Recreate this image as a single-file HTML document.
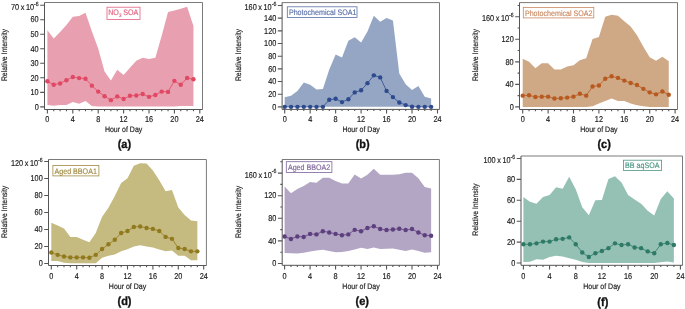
<!DOCTYPE html>
<html><head><meta charset="utf-8"><style>
html,body{margin:0;padding:0;background:#fff;width:685px;height:309px;overflow:hidden}
svg{display:block;will-change:transform}
text{font-family:"Liberation Sans", sans-serif;text-rendering:geometricPrecision}
.t{font-size:8.5px;fill:#222;stroke:#222;stroke-width:0.18px}
.s{font-size:6px}
.s2{font-size:5px}
.h{font-size:8px;fill:#222;stroke:#222;stroke-width:0.18px}
.g{font-size:8px;stroke-width:0.15px}
.b{font-size:11.8px;font-weight:bold;fill:#111;stroke:#111;stroke-width:0.35px}
</style></head><body>
<svg width="685" height="309" viewBox="0 0 685 309">
<rect width="685" height="309" fill="#fff"/>
<polygon fill="#E8A0B0" points="47.4,30.33 53.75,38.61 60.1,31.93 66.45,25.1 72.8,16.83 79.15,15.95 85.5,12.76 91.85,31.35 98.2,48.48 104.55,71.57 110.9,80.42 117.25,69.68 123.6,75.05 129.95,67.79 136.3,60.82 142.65,57.63 149,58.93 155.35,57.63 161.7,35.7 168.05,11.89 174.4,10.44 180.75,8.69 187.1,6.66 193.45,25.97 193.45,105.98 187.1,105.98 180.75,105.98 174.4,106.41 168.05,106.41 161.7,106.41 155.35,106.41 149,106.41 142.65,106.41 136.3,106.41 129.95,106.41 123.6,106.41 117.25,106.41 110.9,106.41 104.55,106.41 98.2,106.41 91.85,106.12 85.5,101.04 79.15,103.8 72.8,101.91 66.45,105.11 60.1,104.96 53.75,105.69 47.4,105.11"/>
<polyline fill="none" stroke="#E04864" stroke-width="0.8" points="47.4,81.29 53.75,84.78 60.1,83.47 66.45,80.28 72.8,76.94 79.15,78.1 85.5,78.68 91.85,85.65 98.2,91.6 104.55,96.25 110.9,100.17 117.25,96.4 123.6,99.01 129.95,95.81 136.3,95.52 142.65,94.07 149,96.83 155.35,94.94 161.7,91.6 168.05,91.89 174.4,80.86 180.75,84.78 187.1,77.96 193.45,79.26"/>
<circle cx="47.4" cy="81.29" r="2.2" fill="#E04864"/>
<circle cx="53.75" cy="84.78" r="2.2" fill="#E04864"/>
<circle cx="60.1" cy="83.47" r="2.2" fill="#E04864"/>
<circle cx="66.45" cy="80.28" r="2.2" fill="#E04864"/>
<circle cx="72.8" cy="76.94" r="2.2" fill="#E04864"/>
<circle cx="79.15" cy="78.1" r="2.2" fill="#E04864"/>
<circle cx="85.5" cy="78.68" r="2.2" fill="#E04864"/>
<circle cx="91.85" cy="85.65" r="2.2" fill="#E04864"/>
<circle cx="98.2" cy="91.6" r="2.2" fill="#E04864"/>
<circle cx="104.55" cy="96.25" r="2.2" fill="#E04864"/>
<circle cx="110.9" cy="100.17" r="2.2" fill="#E04864"/>
<circle cx="117.25" cy="96.4" r="2.2" fill="#E04864"/>
<circle cx="123.6" cy="99.01" r="2.2" fill="#E04864"/>
<circle cx="129.95" cy="95.81" r="2.2" fill="#E04864"/>
<circle cx="136.3" cy="95.52" r="2.2" fill="#E04864"/>
<circle cx="142.65" cy="94.07" r="2.2" fill="#E04864"/>
<circle cx="149" cy="96.83" r="2.2" fill="#E04864"/>
<circle cx="155.35" cy="94.94" r="2.2" fill="#E04864"/>
<circle cx="161.7" cy="91.6" r="2.2" fill="#E04864"/>
<circle cx="168.05" cy="91.89" r="2.2" fill="#E04864"/>
<circle cx="174.4" cy="80.86" r="2.2" fill="#E04864"/>
<circle cx="180.75" cy="84.78" r="2.2" fill="#E04864"/>
<circle cx="187.1" cy="77.96" r="2.2" fill="#E04864"/>
<circle cx="193.45" cy="79.26" r="2.2" fill="#E04864"/>
<path d="M44.5 2.5H202.5V109.5" fill="none" stroke="#7a7a7a" stroke-width="1"/>
<path d="M44.5 2.5V109.5H202.5" fill="none" stroke="#555" stroke-width="1"/>
<path d="M47.4 109.5v4.1M53.75 109.5v1.7M60.1 109.5v1.7M66.45 109.5v1.7M72.8 109.5v4.1M79.15 109.5v1.7M85.5 109.5v1.7M91.85 109.5v1.7M98.2 109.5v4.1M104.55 109.5v1.7M110.9 109.5v1.7M117.25 109.5v1.7M123.6 109.5v4.1M129.95 109.5v1.7M136.3 109.5v1.7M142.65 109.5v1.7M149 109.5v4.1M155.35 109.5v1.7M161.7 109.5v1.7M168.05 109.5v1.7M174.4 109.5v4.1M180.75 109.5v1.7M187.1 109.5v1.7M193.45 109.5v1.7M199.8 109.5v4.1M44.5 106.85h-4.3M44.5 92.33h-4.3M44.5 77.81h-4.3M44.5 63.29h-4.3M44.5 48.77h-4.3M44.5 34.25h-4.3M44.5 19.73h-4.3M44.5 5.21h-4.3" fill="none" stroke="#555" stroke-width="1.1"/>
<text transform="translate(47.4 122.1) scale(0.86 1)" text-anchor="middle" class="t">0</text>
<text transform="translate(72.8 122.1) scale(0.86 1)" text-anchor="middle" class="t">4</text>
<text transform="translate(98.2 122.1) scale(0.86 1)" text-anchor="middle" class="t">8</text>
<text transform="translate(123.6 122.1) scale(0.86 1)" text-anchor="middle" class="t">12</text>
<text transform="translate(149 122.1) scale(0.86 1)" text-anchor="middle" class="t">16</text>
<text transform="translate(174.4 122.1) scale(0.86 1)" text-anchor="middle" class="t">20</text>
<text transform="translate(199.8 122.1) scale(0.86 1)" text-anchor="middle" class="t">24</text>
<text transform="translate(38.7 109.6) scale(0.86 1)" text-anchor="end" class="t">0</text>
<text transform="translate(38.7 95.08) scale(0.86 1)" text-anchor="end" class="t">10</text>
<text transform="translate(38.7 80.56) scale(0.86 1)" text-anchor="end" class="t">20</text>
<text transform="translate(38.7 66.04) scale(0.86 1)" text-anchor="end" class="t">30</text>
<text transform="translate(38.7 51.52) scale(0.86 1)" text-anchor="end" class="t">40</text>
<text transform="translate(38.7 37) scale(0.86 1)" text-anchor="end" class="t">50</text>
<text transform="translate(38.7 22.48) scale(0.86 1)" text-anchor="end" class="t">60</text>
<text transform="translate(38.7 9.76) scale(0.86 1)" text-anchor="end" class="t">70<tspan dx="1.8">x</tspan><tspan dx="1.8">10</tspan><tspan dy="-4.2" dx="0.1" class="s">-6</tspan></text>
<text transform="translate(123.6 131.8) scale(0.875 1)" text-anchor="middle" class="h">Hour of Day</text>
<text transform="translate(7.2 55.05) rotate(-90) scale(0.855 1)" text-anchor="middle" class="h">Relative Intensity</text>
<text transform="translate(124.4 148.3) scale(0.93 1)" text-anchor="middle" class="b">(a)</text>
<rect x="107" y="7.2" width="33" height="12.2" fill="#fff" stroke="#E0607E" stroke-width="0.8"/>
<text transform="translate(108.2 15.4) scale(0.89 1)" class="g" fill="#E0607E" stroke="#E0607E">NO<tspan dy="1.8" class="s2">3</tspan><tspan dy="-1.8"> SOA</tspan></text>
<polygon fill="#95A6C4" points="284.7,97.29 291.07,95.7 297.43,90.89 303.8,82.53 310.17,84.74 316.53,89.49 322.9,88.92 329.27,69.61 335.63,54.59 342,57.57 348.37,40.72 354.73,37.18 361.1,42.62 367.47,31.48 373.83,15.64 380.2,21.78 386.57,17.92 392.93,20.39 399.3,73.47 405.67,84.17 412.03,89.94 418.4,86.01 424.77,96.72 431.13,98.62 431.13,106.85 424.77,106.85 418.4,106.85 412.03,106.85 405.67,106.85 399.3,106.85 392.93,106.85 386.57,106.85 380.2,106.85 373.83,106.85 367.47,106.85 361.1,106.85 354.73,106.85 348.37,106.85 342,106.85 335.63,106.85 329.27,106.85 322.9,106.85 316.53,106.85 310.17,106.85 303.8,106.85 297.43,106.85 291.07,106.85 284.7,106.85"/>
<polyline fill="none" stroke="#2E4A8E" stroke-width="0.8" points="284.7,106.85 291.07,106.85 297.43,106.85 303.8,106.85 310.17,106.85 316.53,106.85 322.9,106.85 329.27,99.76 335.63,98.81 342,102.1 348.37,99.19 354.73,92.41 361.1,90.32 367.47,83.16 373.83,75.37 380.2,77.4 386.57,90.89 392.93,97.1 399.3,102.48 405.67,105.08 412.03,106.72 418.4,106.85 424.77,106.85 431.13,106.85"/>
<circle cx="284.7" cy="106.85" r="2.2" fill="#2E4A8E"/>
<circle cx="291.07" cy="106.85" r="2.2" fill="#2E4A8E"/>
<circle cx="297.43" cy="106.85" r="2.2" fill="#2E4A8E"/>
<circle cx="303.8" cy="106.85" r="2.2" fill="#2E4A8E"/>
<circle cx="310.17" cy="106.85" r="2.2" fill="#2E4A8E"/>
<circle cx="316.53" cy="106.85" r="2.2" fill="#2E4A8E"/>
<circle cx="322.9" cy="106.85" r="2.2" fill="#2E4A8E"/>
<circle cx="329.27" cy="99.76" r="2.2" fill="#2E4A8E"/>
<circle cx="335.63" cy="98.81" r="2.2" fill="#2E4A8E"/>
<circle cx="342" cy="102.1" r="2.2" fill="#2E4A8E"/>
<circle cx="348.37" cy="99.19" r="2.2" fill="#2E4A8E"/>
<circle cx="354.73" cy="92.41" r="2.2" fill="#2E4A8E"/>
<circle cx="361.1" cy="90.32" r="2.2" fill="#2E4A8E"/>
<circle cx="367.47" cy="83.16" r="2.2" fill="#2E4A8E"/>
<circle cx="373.83" cy="75.37" r="2.2" fill="#2E4A8E"/>
<circle cx="380.2" cy="77.4" r="2.2" fill="#2E4A8E"/>
<circle cx="386.57" cy="90.89" r="2.2" fill="#2E4A8E"/>
<circle cx="392.93" cy="97.1" r="2.2" fill="#2E4A8E"/>
<circle cx="399.3" cy="102.48" r="2.2" fill="#2E4A8E"/>
<circle cx="405.67" cy="105.08" r="2.2" fill="#2E4A8E"/>
<circle cx="412.03" cy="106.72" r="2.2" fill="#2E4A8E"/>
<circle cx="418.4" cy="106.85" r="2.2" fill="#2E4A8E"/>
<circle cx="424.77" cy="106.85" r="2.2" fill="#2E4A8E"/>
<circle cx="431.13" cy="106.85" r="2.2" fill="#2E4A8E"/>
<path d="M282.1 2.6H439.5V109.4" fill="none" stroke="#7a7a7a" stroke-width="1"/>
<path d="M282.1 2.6V109.4H439.5" fill="none" stroke="#555" stroke-width="1"/>
<path d="M284.7 109.4v4.1M291.07 109.4v1.7M297.43 109.4v1.7M303.8 109.4v1.7M310.17 109.4v4.1M316.53 109.4v1.7M322.9 109.4v1.7M329.27 109.4v1.7M335.63 109.4v4.1M342 109.4v1.7M348.37 109.4v1.7M354.73 109.4v1.7M361.1 109.4v4.1M367.47 109.4v1.7M373.83 109.4v1.7M380.2 109.4v1.7M386.57 109.4v4.1M392.93 109.4v1.7M399.3 109.4v1.7M405.67 109.4v1.7M412.03 109.4v4.1M418.4 109.4v1.7M424.77 109.4v1.7M431.13 109.4v1.7M437.5 109.4v4.1M282.1 106.85h-4.3M282.1 94.18h-4.3M282.1 81.51h-4.3M282.1 68.85h-4.3M282.1 56.18h-4.3M282.1 43.51h-4.3M282.1 30.84h-4.3M282.1 18.17h-4.3M282.1 5.51h-4.3" fill="none" stroke="#555" stroke-width="1.1"/>
<text transform="translate(284.7 122.1) scale(0.86 1)" text-anchor="middle" class="t">0</text>
<text transform="translate(310.17 122.1) scale(0.86 1)" text-anchor="middle" class="t">4</text>
<text transform="translate(335.63 122.1) scale(0.86 1)" text-anchor="middle" class="t">8</text>
<text transform="translate(361.1 122.1) scale(0.86 1)" text-anchor="middle" class="t">12</text>
<text transform="translate(386.57 122.1) scale(0.86 1)" text-anchor="middle" class="t">16</text>
<text transform="translate(412.03 122.1) scale(0.86 1)" text-anchor="middle" class="t">20</text>
<text transform="translate(437.5 122.1) scale(0.86 1)" text-anchor="middle" class="t">24</text>
<text transform="translate(276.3 109.6) scale(0.86 1)" text-anchor="end" class="t">0</text>
<text transform="translate(276.3 96.93) scale(0.86 1)" text-anchor="end" class="t">20</text>
<text transform="translate(276.3 84.26) scale(0.86 1)" text-anchor="end" class="t">40</text>
<text transform="translate(276.3 71.6) scale(0.86 1)" text-anchor="end" class="t">60</text>
<text transform="translate(276.3 58.93) scale(0.86 1)" text-anchor="end" class="t">80</text>
<text transform="translate(276.3 46.26) scale(0.86 1)" text-anchor="end" class="t">100</text>
<text transform="translate(276.3 33.59) scale(0.86 1)" text-anchor="end" class="t">120</text>
<text transform="translate(276.3 20.92) scale(0.86 1)" text-anchor="end" class="t">140</text>
<text transform="translate(276.3 10.06) scale(0.86 1)" text-anchor="end" class="t">160<tspan dx="1.8">x</tspan><tspan dx="1.8">10</tspan><tspan dy="-4.2" dx="0.1" class="s">-6</tspan></text>
<text transform="translate(361.1 131.8) scale(0.875 1)" text-anchor="middle" class="h">Hour of Day</text>
<text transform="translate(240.5 55.05) rotate(-90) scale(0.855 1)" text-anchor="middle" class="h">Relative Intensity</text>
<text transform="translate(362.7 148.3) scale(0.93 1)" text-anchor="middle" class="b">(b)</text>
<rect x="287.3" y="6.8" width="69.7" height="10.6" fill="#fff" stroke="#5870A8" stroke-width="0.8"/>
<text transform="translate(288.9 14.8) scale(0.89 1)" class="g" fill="#5870A8" stroke="#5870A8">Photochemical SOA1</text>
<polygon fill="#CFA886" points="522.7,58.85 529.05,61.84 535.4,68.2 541.75,63.36 548.1,63.36 554.45,69.5 560.8,69.5 567.15,66.62 573.5,65.22 579.85,60.26 586.2,58.34 592.55,39.02 598.9,37.05 605.25,16.77 611.6,14.86 617.95,15.76 624.3,21.28 630.65,26.46 637,35.19 643.35,46.8 649.7,57.33 656.05,60.71 662.4,56.77 668.75,61.27 668.75,106.9 662.4,106.9 656.05,106.9 649.7,106.9 643.35,106.34 637,105.32 630.65,103.41 624.3,100.93 617.95,100.93 611.6,98.51 605.25,100.93 598.9,103.41 592.55,106.34 586.2,106.9 579.85,106.9 573.5,106.9 567.15,106.9 560.8,106.9 554.45,106.9 548.1,106.9 541.75,106.9 535.4,106.9 529.05,106.9 522.7,106.9"/>
<polyline fill="none" stroke="#B85A20" stroke-width="0.8" points="522.7,95.63 529.05,95.24 535.4,97.04 541.75,96.65 548.1,96.65 554.45,98.51 560.8,98.23 567.15,97.61 573.5,96.65 579.85,93.72 586.2,95.63 592.55,86.56 598.9,85.55 605.25,78.79 611.6,76.31 617.95,77.89 624.3,80.59 630.65,83.07 637,85.04 643.35,88.87 649.7,92.37 656.05,94.34 662.4,91.47 668.75,94.73"/>
<circle cx="522.7" cy="95.63" r="2.2" fill="#B85A20"/>
<circle cx="529.05" cy="95.24" r="2.2" fill="#B85A20"/>
<circle cx="535.4" cy="97.04" r="2.2" fill="#B85A20"/>
<circle cx="541.75" cy="96.65" r="2.2" fill="#B85A20"/>
<circle cx="548.1" cy="96.65" r="2.2" fill="#B85A20"/>
<circle cx="554.45" cy="98.51" r="2.2" fill="#B85A20"/>
<circle cx="560.8" cy="98.23" r="2.2" fill="#B85A20"/>
<circle cx="567.15" cy="97.61" r="2.2" fill="#B85A20"/>
<circle cx="573.5" cy="96.65" r="2.2" fill="#B85A20"/>
<circle cx="579.85" cy="93.72" r="2.2" fill="#B85A20"/>
<circle cx="586.2" cy="95.63" r="2.2" fill="#B85A20"/>
<circle cx="592.55" cy="86.56" r="2.2" fill="#B85A20"/>
<circle cx="598.9" cy="85.55" r="2.2" fill="#B85A20"/>
<circle cx="605.25" cy="78.79" r="2.2" fill="#B85A20"/>
<circle cx="611.6" cy="76.31" r="2.2" fill="#B85A20"/>
<circle cx="617.95" cy="77.89" r="2.2" fill="#B85A20"/>
<circle cx="624.3" cy="80.59" r="2.2" fill="#B85A20"/>
<circle cx="630.65" cy="83.07" r="2.2" fill="#B85A20"/>
<circle cx="637" cy="85.04" r="2.2" fill="#B85A20"/>
<circle cx="643.35" cy="88.87" r="2.2" fill="#B85A20"/>
<circle cx="649.7" cy="92.37" r="2.2" fill="#B85A20"/>
<circle cx="656.05" cy="94.34" r="2.2" fill="#B85A20"/>
<circle cx="662.4" cy="91.47" r="2.2" fill="#B85A20"/>
<circle cx="668.75" cy="94.73" r="2.2" fill="#B85A20"/>
<path d="M519.5 2.6H677.5V109.5" fill="none" stroke="#7a7a7a" stroke-width="1"/>
<path d="M519.5 2.6V109.5H677.5" fill="none" stroke="#555" stroke-width="1"/>
<path d="M522.7 109.5v4.1M529.05 109.5v1.7M535.4 109.5v1.7M541.75 109.5v1.7M548.1 109.5v4.1M554.45 109.5v1.7M560.8 109.5v1.7M567.15 109.5v1.7M573.5 109.5v4.1M579.85 109.5v1.7M586.2 109.5v1.7M592.55 109.5v1.7M598.9 109.5v4.1M605.25 109.5v1.7M611.6 109.5v1.7M617.95 109.5v1.7M624.3 109.5v4.1M630.65 109.5v1.7M637 109.5v1.7M643.35 109.5v1.7M649.7 109.5v4.1M656.05 109.5v1.7M662.4 109.5v1.7M668.75 109.5v1.7M675.1 109.5v4.1M519.5 106.9h-4.3M519.5 95.63h-1.9M519.5 84.37h-4.3M519.5 73.1h-1.9M519.5 61.84h-4.3M519.5 50.57h-1.9M519.5 39.3h-4.3M519.5 28.04h-1.9M519.5 16.77h-4.3M519.5 5.51h-1.9" fill="none" stroke="#555" stroke-width="1.1"/>
<text transform="translate(522.7 122.1) scale(0.86 1)" text-anchor="middle" class="t">0</text>
<text transform="translate(548.1 122.1) scale(0.86 1)" text-anchor="middle" class="t">4</text>
<text transform="translate(573.5 122.1) scale(0.86 1)" text-anchor="middle" class="t">8</text>
<text transform="translate(598.9 122.1) scale(0.86 1)" text-anchor="middle" class="t">12</text>
<text transform="translate(624.3 122.1) scale(0.86 1)" text-anchor="middle" class="t">16</text>
<text transform="translate(649.7 122.1) scale(0.86 1)" text-anchor="middle" class="t">20</text>
<text transform="translate(675.1 122.1) scale(0.86 1)" text-anchor="middle" class="t">24</text>
<text transform="translate(513.7 109.65) scale(0.86 1)" text-anchor="end" class="t">0</text>
<text transform="translate(513.7 87.12) scale(0.86 1)" text-anchor="end" class="t">40</text>
<text transform="translate(513.7 64.59) scale(0.86 1)" text-anchor="end" class="t">80</text>
<text transform="translate(513.7 42.05) scale(0.86 1)" text-anchor="end" class="t">120</text>
<text transform="translate(513.7 21.32) scale(0.86 1)" text-anchor="end" class="t">160<tspan dx="1.8">x</tspan><tspan dx="1.8">10</tspan><tspan dy="-4.2" dx="0.1" class="s">-6</tspan></text>
<text transform="translate(598.9 131.8) scale(0.875 1)" text-anchor="middle" class="h">Hour of Day</text>
<text transform="translate(478.2 55.05) rotate(-90) scale(0.855 1)" text-anchor="middle" class="h">Relative Intensity</text>
<text transform="translate(604.1 148.3) scale(0.93 1)" text-anchor="middle" class="b">(c)</text>
<rect x="523.3" y="7.4" width="70.5" height="10.5" fill="#fff" stroke="#C98860" stroke-width="0.8"/>
<text transform="translate(524.9 15.6) scale(0.89 1)" class="g" fill="#C98860" stroke="#C98860">Photochemical SOA2</text>
<polygon fill="#C5BA80" points="51.3,222.7 57.65,225.59 64,228.56 70.35,236.9 76.7,236.9 83.05,239.87 89.4,242.25 95.75,233.07 102.1,216.75 108.45,207.82 114.8,195.93 121.15,183.09 127.5,178.33 133.85,165.67 140.2,163.2 146.55,163.62 152.9,170.43 159.25,180.2 165.6,191.33 171.95,189.98 178.3,207.57 184.65,215.05 191,220.41 197.35,221.34 197.35,260.27 191,260.27 184.65,255.85 178.3,255.85 171.95,250.58 165.6,251.34 159.25,249.47 152.9,247.6 146.55,246.59 140.2,245.14 133.85,246.59 127.5,249.22 121.15,251.34 114.8,254.49 108.45,255.85 102.1,257.81 95.75,263.25 89.4,263.25 83.05,263.25 76.7,263.25 70.35,263.25 64,262.65 57.65,261.12 51.3,261.12"/>
<polyline fill="none" stroke="#917A1E" stroke-width="0.8" points="51.3,252.53 57.65,254.83 64,256.44 70.35,257.38 76.7,257.38 83.05,257.38 89.4,257.81 95.75,254.83 102.1,249.05 108.45,244.29 114.8,239.7 121.15,233.07 127.5,231.03 133.85,226.95 140.2,226.53 146.55,227.97 152.9,228.91 159.25,231.03 165.6,236.9 171.95,238.85 178.3,248.03 184.65,249.05 191,251.34 197.35,251.34"/>
<circle cx="51.3" cy="252.53" r="2.2" fill="#917A1E"/>
<circle cx="57.65" cy="254.83" r="2.2" fill="#917A1E"/>
<circle cx="64" cy="256.44" r="2.2" fill="#917A1E"/>
<circle cx="70.35" cy="257.38" r="2.2" fill="#917A1E"/>
<circle cx="76.7" cy="257.38" r="2.2" fill="#917A1E"/>
<circle cx="83.05" cy="257.38" r="2.2" fill="#917A1E"/>
<circle cx="89.4" cy="257.81" r="2.2" fill="#917A1E"/>
<circle cx="95.75" cy="254.83" r="2.2" fill="#917A1E"/>
<circle cx="102.1" cy="249.05" r="2.2" fill="#917A1E"/>
<circle cx="108.45" cy="244.29" r="2.2" fill="#917A1E"/>
<circle cx="114.8" cy="239.7" r="2.2" fill="#917A1E"/>
<circle cx="121.15" cy="233.07" r="2.2" fill="#917A1E"/>
<circle cx="127.5" cy="231.03" r="2.2" fill="#917A1E"/>
<circle cx="133.85" cy="226.95" r="2.2" fill="#917A1E"/>
<circle cx="140.2" cy="226.53" r="2.2" fill="#917A1E"/>
<circle cx="146.55" cy="227.97" r="2.2" fill="#917A1E"/>
<circle cx="152.9" cy="228.91" r="2.2" fill="#917A1E"/>
<circle cx="159.25" cy="231.03" r="2.2" fill="#917A1E"/>
<circle cx="165.6" cy="236.9" r="2.2" fill="#917A1E"/>
<circle cx="171.95" cy="238.85" r="2.2" fill="#917A1E"/>
<circle cx="178.3" cy="248.03" r="2.2" fill="#917A1E"/>
<circle cx="184.65" cy="249.05" r="2.2" fill="#917A1E"/>
<circle cx="191" cy="251.34" r="2.2" fill="#917A1E"/>
<circle cx="197.35" cy="251.34" r="2.2" fill="#917A1E"/>
<path d="M48.5 159.5H206.4V265.5" fill="none" stroke="#7a7a7a" stroke-width="1"/>
<path d="M48.5 159.5V265.5H206.4" fill="none" stroke="#555" stroke-width="1"/>
<path d="M51.3 265.5v4.1M57.65 265.5v1.7M64 265.5v1.7M70.35 265.5v1.7M76.7 265.5v4.1M83.05 265.5v1.7M89.4 265.5v1.7M95.75 265.5v1.7M102.1 265.5v4.1M108.45 265.5v1.7M114.8 265.5v1.7M121.15 265.5v1.7M127.5 265.5v4.1M133.85 265.5v1.7M140.2 265.5v1.7M146.55 265.5v1.7M152.9 265.5v4.1M159.25 265.5v1.7M165.6 265.5v1.7M171.95 265.5v1.7M178.3 265.5v4.1M184.65 265.5v1.7M191 265.5v1.7M197.35 265.5v1.7M203.7 265.5v4.1M48.5 263.5h-4.3M48.5 246.5h-4.3M48.5 229.5h-4.3M48.5 212.5h-4.3M48.5 195.5h-4.3M48.5 178.5h-4.3M48.5 161.5h-4.3" fill="none" stroke="#555" stroke-width="1.1"/>
<text transform="translate(51.3 278.6) scale(0.86 1)" text-anchor="middle" class="t">0</text>
<text transform="translate(76.7 278.6) scale(0.86 1)" text-anchor="middle" class="t">4</text>
<text transform="translate(102.1 278.6) scale(0.86 1)" text-anchor="middle" class="t">8</text>
<text transform="translate(127.5 278.6) scale(0.86 1)" text-anchor="middle" class="t">12</text>
<text transform="translate(152.9 278.6) scale(0.86 1)" text-anchor="middle" class="t">16</text>
<text transform="translate(178.3 278.6) scale(0.86 1)" text-anchor="middle" class="t">20</text>
<text transform="translate(203.7 278.6) scale(0.86 1)" text-anchor="middle" class="t">24</text>
<text transform="translate(42.7 266.25) scale(0.86 1)" text-anchor="end" class="t">0</text>
<text transform="translate(42.7 249.25) scale(0.86 1)" text-anchor="end" class="t">20</text>
<text transform="translate(42.7 232.25) scale(0.86 1)" text-anchor="end" class="t">40</text>
<text transform="translate(42.7 215.25) scale(0.86 1)" text-anchor="end" class="t">60</text>
<text transform="translate(42.7 198.25) scale(0.86 1)" text-anchor="end" class="t">80</text>
<text transform="translate(42.7 181.25) scale(0.86 1)" text-anchor="end" class="t">100</text>
<text transform="translate(42.7 166.05) scale(0.86 1)" text-anchor="end" class="t">120<tspan dx="1.8">x</tspan><tspan dx="1.8">10</tspan><tspan dy="-4.2" dx="0.1" class="s">-6</tspan></text>
<text transform="translate(127.5 288.6) scale(0.875 1)" text-anchor="middle" class="h">Hour of Day</text>
<text transform="translate(7 211.85) rotate(-90) scale(0.855 1)" text-anchor="middle" class="h">Relative Intensity</text>
<text transform="translate(124.5 305.1) scale(0.93 1)" text-anchor="middle" class="b">(d)</text>
<rect x="52.9" y="165.4" width="46" height="10.5" fill="#fff" stroke="#A08A40" stroke-width="0.8"/>
<text transform="translate(54.5 173.9) scale(0.89 1)" class="g" fill="#A08A40" stroke="#A08A40">Aged BBOA1</text>
<polygon fill="#B3A6C4" points="284.6,186.55 290.97,193.21 297.34,188.92 303.71,185.98 310.08,182.03 316.45,182.65 322.83,177.73 329.2,177.73 335.57,181.12 341.94,183.44 348.31,183.44 354.68,174.51 361.05,178.47 367.42,174.8 373.79,168.81 380.16,174.8 386.53,174.8 392.9,174.68 399.27,174.29 405.65,172.87 412.02,172.87 418.39,178.19 424.76,186.94 431.13,188.47 431.13,252.26 424.76,252.76 418.39,251.07 412.02,249.54 405.65,251.07 399.27,249.83 392.9,248.41 386.53,248.75 380.16,249.04 373.79,247.45 367.42,249.04 361.05,247.85 354.68,249.38 348.31,251.07 341.94,251.97 335.57,252.26 329.2,251.07 322.83,249.83 316.45,250.62 310.08,251.47 303.71,252.76 297.34,253.44 290.97,253.22 284.6,253.05"/>
<polyline fill="none" stroke="#5E3F7E" stroke-width="0.8" points="284.6,236.49 290.97,238.98 297.34,236.49 303.71,236.94 310.08,233.89 316.45,234.4 322.83,231.18 329.2,232.48 335.57,233.89 341.94,235.19 348.31,234.4 354.68,229.83 361.05,231.18 367.42,227.96 373.79,226.21 380.16,229.03 386.53,230.05 392.9,229.54 399.27,228.75 405.65,230.05 412.02,229.03 418.39,232.48 424.76,235.19 431.13,235.7"/>
<circle cx="284.6" cy="236.49" r="2.2" fill="#5E3F7E"/>
<circle cx="290.97" cy="238.98" r="2.2" fill="#5E3F7E"/>
<circle cx="297.34" cy="236.49" r="2.2" fill="#5E3F7E"/>
<circle cx="303.71" cy="236.94" r="2.2" fill="#5E3F7E"/>
<circle cx="310.08" cy="233.89" r="2.2" fill="#5E3F7E"/>
<circle cx="316.45" cy="234.4" r="2.2" fill="#5E3F7E"/>
<circle cx="322.83" cy="231.18" r="2.2" fill="#5E3F7E"/>
<circle cx="329.2" cy="232.48" r="2.2" fill="#5E3F7E"/>
<circle cx="335.57" cy="233.89" r="2.2" fill="#5E3F7E"/>
<circle cx="341.94" cy="235.19" r="2.2" fill="#5E3F7E"/>
<circle cx="348.31" cy="234.4" r="2.2" fill="#5E3F7E"/>
<circle cx="354.68" cy="229.83" r="2.2" fill="#5E3F7E"/>
<circle cx="361.05" cy="231.18" r="2.2" fill="#5E3F7E"/>
<circle cx="367.42" cy="227.96" r="2.2" fill="#5E3F7E"/>
<circle cx="373.79" cy="226.21" r="2.2" fill="#5E3F7E"/>
<circle cx="380.16" cy="229.03" r="2.2" fill="#5E3F7E"/>
<circle cx="386.53" cy="230.05" r="2.2" fill="#5E3F7E"/>
<circle cx="392.9" cy="229.54" r="2.2" fill="#5E3F7E"/>
<circle cx="399.27" cy="228.75" r="2.2" fill="#5E3F7E"/>
<circle cx="405.65" cy="230.05" r="2.2" fill="#5E3F7E"/>
<circle cx="412.02" cy="229.03" r="2.2" fill="#5E3F7E"/>
<circle cx="418.39" cy="232.48" r="2.2" fill="#5E3F7E"/>
<circle cx="424.76" cy="235.19" r="2.2" fill="#5E3F7E"/>
<circle cx="431.13" cy="235.7" r="2.2" fill="#5E3F7E"/>
<path d="M282.2 159.5H439.4V265.3" fill="none" stroke="#7a7a7a" stroke-width="1"/>
<path d="M282.2 159.5V265.3H439.4" fill="none" stroke="#555" stroke-width="1"/>
<path d="M284.6 265.3v4.1M290.97 265.3v1.7M297.34 265.3v1.7M303.71 265.3v1.7M310.08 265.3v4.1M316.45 265.3v1.7M322.83 265.3v1.7M329.2 265.3v1.7M335.57 265.3v4.1M341.94 265.3v1.7M348.31 265.3v1.7M354.68 265.3v1.7M361.05 265.3v4.1M367.42 265.3v1.7M373.79 265.3v1.7M380.16 265.3v1.7M386.53 265.3v4.1M392.9 265.3v1.7M399.27 265.3v1.7M405.65 265.3v1.7M412.02 265.3v4.1M418.39 265.3v1.7M424.76 265.3v1.7M431.13 265.3v1.7M437.5 265.3v4.1M282.2 263.5h-4.3M282.2 252.2h-1.9M282.2 240.9h-4.3M282.2 229.6h-1.9M282.2 218.3h-4.3M282.2 207h-1.9M282.2 195.7h-4.3M282.2 184.4h-1.9M282.2 173.1h-4.3M282.2 161.8h-1.9" fill="none" stroke="#555" stroke-width="1.1"/>
<text transform="translate(284.6 278.6) scale(0.86 1)" text-anchor="middle" class="t">0</text>
<text transform="translate(310.08 278.6) scale(0.86 1)" text-anchor="middle" class="t">4</text>
<text transform="translate(335.57 278.6) scale(0.86 1)" text-anchor="middle" class="t">8</text>
<text transform="translate(361.05 278.6) scale(0.86 1)" text-anchor="middle" class="t">12</text>
<text transform="translate(386.53 278.6) scale(0.86 1)" text-anchor="middle" class="t">16</text>
<text transform="translate(412.02 278.6) scale(0.86 1)" text-anchor="middle" class="t">20</text>
<text transform="translate(437.5 278.6) scale(0.86 1)" text-anchor="middle" class="t">24</text>
<text transform="translate(276.4 266.25) scale(0.86 1)" text-anchor="end" class="t">0</text>
<text transform="translate(276.4 243.65) scale(0.86 1)" text-anchor="end" class="t">40</text>
<text transform="translate(276.4 221.05) scale(0.86 1)" text-anchor="end" class="t">80</text>
<text transform="translate(276.4 198.45) scale(0.86 1)" text-anchor="end" class="t">120</text>
<text transform="translate(276.4 177.65) scale(0.86 1)" text-anchor="end" class="t">160<tspan dx="1.8">x</tspan><tspan dx="1.8">10</tspan><tspan dy="-4.2" dx="0.1" class="s">-6</tspan></text>
<text transform="translate(361.05 288.7) scale(0.875 1)" text-anchor="middle" class="h">Hour of Day</text>
<text transform="translate(240.5 211.85) rotate(-90) scale(0.855 1)" text-anchor="middle" class="h">Relative Intensity</text>
<text transform="translate(362.3 305) scale(0.93 1)" text-anchor="middle" class="b">(e)</text>
<rect x="286.3" y="161.7" width="45.6" height="10.8" fill="#fff" stroke="#7D6499" stroke-width="0.8"/>
<text transform="translate(287.9 169.7) scale(0.89 1)" class="g" fill="#7D6499" stroke="#7D6499">Aged BBOA2</text>
<polygon fill="#95C1B5" points="523.4,196.96 529.94,201.87 536.48,203.75 543.02,196.96 549.57,195.07 556.11,187.24 562.65,188.7 569.19,176.68 575.73,189.22 582.27,207.3 588.82,215.14 595.36,200.3 601.9,199.99 608.44,178.98 614.98,176.26 621.52,182.43 628.07,195.07 634.61,199.57 641.15,203.75 647.69,210.65 654.23,215.56 660.77,198.94 667.32,191.21 673.86,198.42 673.86,262.58 667.32,261.54 660.77,262.37 654.23,263 647.69,263 641.15,263 634.61,263 628.07,263 621.52,263 614.98,263 608.44,263 601.9,263 595.36,263 588.82,263 582.27,262.06 575.73,259.87 569.19,258.19 562.65,256.42 556.11,255.79 549.57,257.04 543.02,259.87 536.48,259.34 529.94,261.75 523.4,262.06"/>
<polyline fill="none" stroke="#2E7A66" stroke-width="0.8" points="523.4,244.29 529.94,244.29 536.48,243.35 543.02,241.58 549.57,241.58 556.11,239.28 562.65,238.86 569.19,237.4 575.73,244.29 582.27,252.55 588.82,257.04 595.36,253.18 601.9,250.98 608.44,248.16 614.98,243.35 621.52,245.03 628.07,244.29 634.61,247.43 641.15,248.16 647.69,251.4 654.23,253.18 660.77,244.29 667.32,242.94 673.86,245.03"/>
<circle cx="523.4" cy="244.29" r="2.2" fill="#2E7A66"/>
<circle cx="529.94" cy="244.29" r="2.2" fill="#2E7A66"/>
<circle cx="536.48" cy="243.35" r="2.2" fill="#2E7A66"/>
<circle cx="543.02" cy="241.58" r="2.2" fill="#2E7A66"/>
<circle cx="549.57" cy="241.58" r="2.2" fill="#2E7A66"/>
<circle cx="556.11" cy="239.28" r="2.2" fill="#2E7A66"/>
<circle cx="562.65" cy="238.86" r="2.2" fill="#2E7A66"/>
<circle cx="569.19" cy="237.4" r="2.2" fill="#2E7A66"/>
<circle cx="575.73" cy="244.29" r="2.2" fill="#2E7A66"/>
<circle cx="582.27" cy="252.55" r="2.2" fill="#2E7A66"/>
<circle cx="588.82" cy="257.04" r="2.2" fill="#2E7A66"/>
<circle cx="595.36" cy="253.18" r="2.2" fill="#2E7A66"/>
<circle cx="601.9" cy="250.98" r="2.2" fill="#2E7A66"/>
<circle cx="608.44" cy="248.16" r="2.2" fill="#2E7A66"/>
<circle cx="614.98" cy="243.35" r="2.2" fill="#2E7A66"/>
<circle cx="621.52" cy="245.03" r="2.2" fill="#2E7A66"/>
<circle cx="628.07" cy="244.29" r="2.2" fill="#2E7A66"/>
<circle cx="634.61" cy="247.43" r="2.2" fill="#2E7A66"/>
<circle cx="641.15" cy="248.16" r="2.2" fill="#2E7A66"/>
<circle cx="647.69" cy="251.4" r="2.2" fill="#2E7A66"/>
<circle cx="654.23" cy="253.18" r="2.2" fill="#2E7A66"/>
<circle cx="660.77" cy="244.29" r="2.2" fill="#2E7A66"/>
<circle cx="667.32" cy="242.94" r="2.2" fill="#2E7A66"/>
<circle cx="673.86" cy="245.03" r="2.2" fill="#2E7A66"/>
<path d="M521 156H682.5V265.3" fill="none" stroke="#7a7a7a" stroke-width="1"/>
<path d="M521 156V265.3H682.5" fill="none" stroke="#555" stroke-width="1"/>
<path d="M523.4 265.3v4.1M529.94 265.3v1.7M536.48 265.3v1.7M543.02 265.3v1.7M549.57 265.3v4.1M556.11 265.3v1.7M562.65 265.3v1.7M569.19 265.3v1.7M575.73 265.3v4.1M582.27 265.3v1.7M588.82 265.3v1.7M595.36 265.3v1.7M601.9 265.3v4.1M608.44 265.3v1.7M614.98 265.3v1.7M621.52 265.3v1.7M628.07 265.3v4.1M634.61 265.3v1.7M641.15 265.3v1.7M647.69 265.3v1.7M654.23 265.3v4.1M660.77 265.3v1.7M667.32 265.3v1.7M673.86 265.3v1.7M680.4 265.3v4.1M521 263h-4.3M521 242.1h-4.3M521 221.2h-4.3M521 200.3h-4.3M521 179.4h-4.3M521 158.5h-4.3" fill="none" stroke="#555" stroke-width="1.1"/>
<text transform="translate(523.4 278.5) scale(0.86 1)" text-anchor="middle" class="t">0</text>
<text transform="translate(549.57 278.5) scale(0.86 1)" text-anchor="middle" class="t">4</text>
<text transform="translate(575.73 278.5) scale(0.86 1)" text-anchor="middle" class="t">8</text>
<text transform="translate(601.9 278.5) scale(0.86 1)" text-anchor="middle" class="t">12</text>
<text transform="translate(628.07 278.5) scale(0.86 1)" text-anchor="middle" class="t">16</text>
<text transform="translate(654.23 278.5) scale(0.86 1)" text-anchor="middle" class="t">20</text>
<text transform="translate(680.4 278.5) scale(0.86 1)" text-anchor="middle" class="t">24</text>
<text transform="translate(515.2 265.75) scale(0.86 1)" text-anchor="end" class="t">0</text>
<text transform="translate(515.2 244.85) scale(0.86 1)" text-anchor="end" class="t">20</text>
<text transform="translate(515.2 223.95) scale(0.86 1)" text-anchor="end" class="t">40</text>
<text transform="translate(515.2 203.05) scale(0.86 1)" text-anchor="end" class="t">60</text>
<text transform="translate(515.2 182.15) scale(0.86 1)" text-anchor="end" class="t">80</text>
<text transform="translate(515.2 163.05) scale(0.86 1)" text-anchor="end" class="t">100<tspan dx="1.8">x</tspan><tspan dx="1.8">10</tspan><tspan dy="-4.2" dx="0.1" class="s">-6</tspan></text>
<text transform="translate(601.9 288.5) scale(0.875 1)" text-anchor="middle" class="h">Hour of Day</text>
<text transform="translate(477.6 209.6) rotate(-90) scale(0.855 1)" text-anchor="middle" class="h">Relative Intensity</text>
<text transform="translate(602.8 306.2) scale(0.93 1)" text-anchor="middle" class="b">(f)</text>
<rect x="623.4" y="160.2" width="38.2" height="10.2" fill="#fff" stroke="#4A9684" stroke-width="0.8"/>
<text transform="translate(625 168.1) scale(0.89 1)" class="g" fill="#4A9684" stroke="#4A9684">BB aqSOA</text>
</svg>
</body></html>
